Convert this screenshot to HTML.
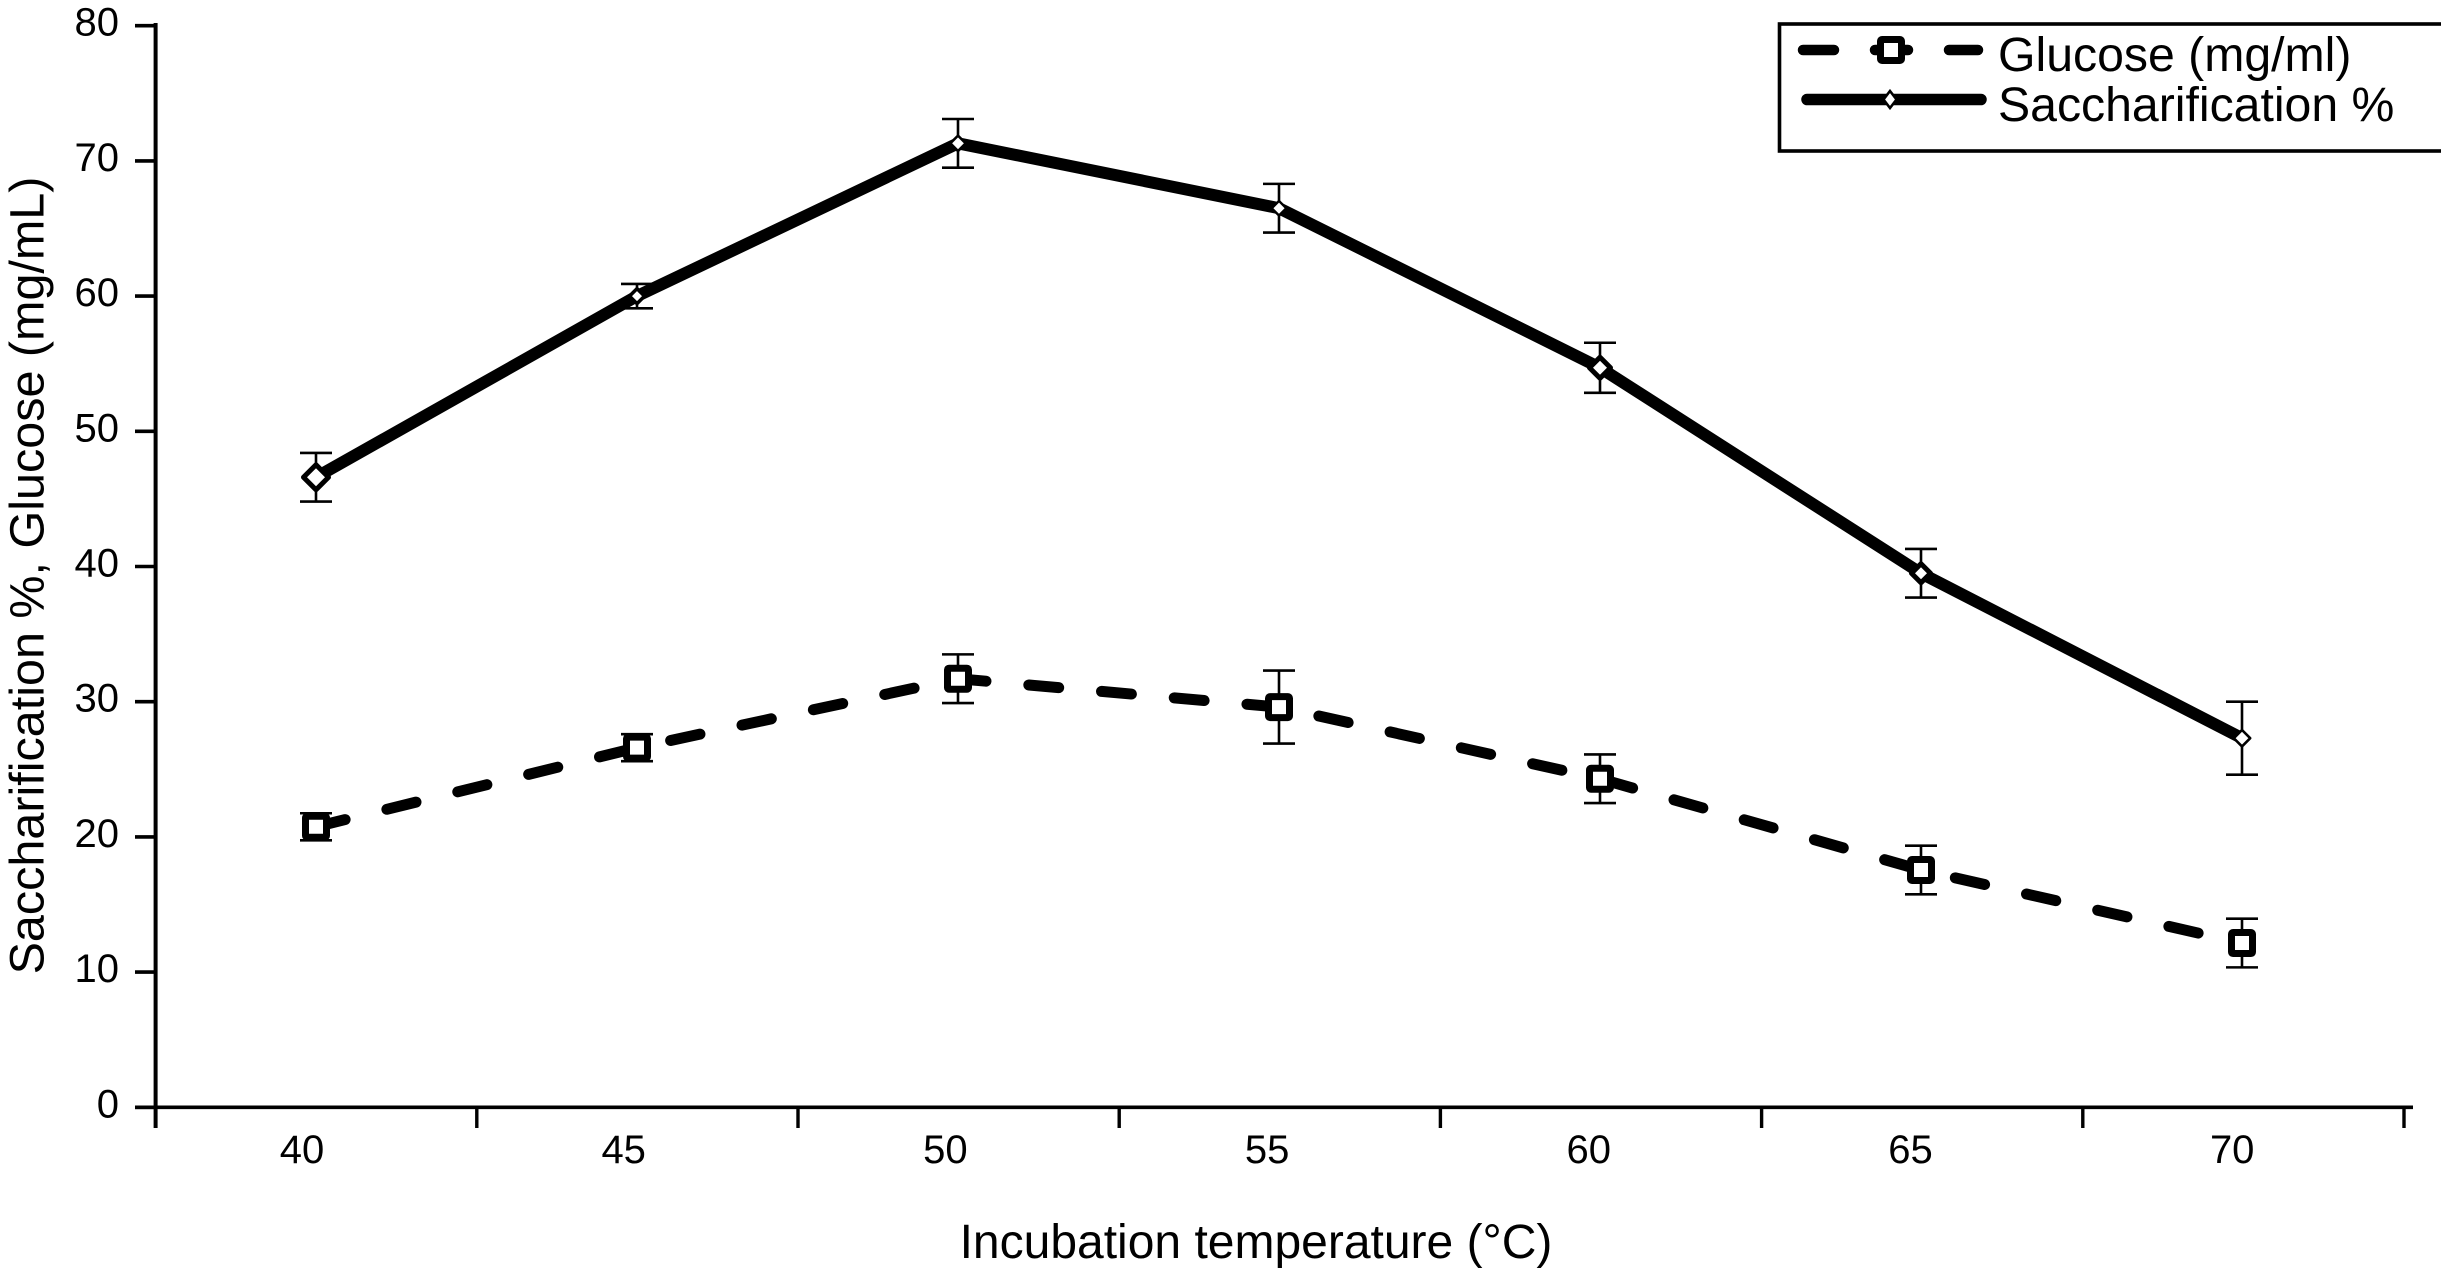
<!DOCTYPE html>
<html lang="en">
<head>
<meta charset="utf-8">
<title>Saccharification and glucose vs incubation temperature</title>
<style>
html,body{margin:0;padding:0;background:#fff;width:2441px;height:1268px;overflow:hidden}
svg{display:block;font-family:"Liberation Sans",sans-serif;fill:#000}
</style>
</head>
<body>
<svg id="chart" xmlns="http://www.w3.org/2000/svg" width="2441" height="1268" viewBox="0 0 2441 1268">
  <rect x="0" y="0" width="2441" height="1268" fill="#fff"/>
  <g id="axes"></g>
  <g id="errors"></g>
  <g id="series"></g>
  <text x="1256" y="1258" font-size="48" text-anchor="middle">Incubation temperature (°C)</text>
  <text transform="translate(43.5 575.5) rotate(-90)" font-size="48.5" text-anchor="middle">Saccharification %, Glucose (mg/mL)</text>
  <g>
    <rect x="1779.5" y="24" width="700" height="127" fill="#fff" stroke="#000" stroke-width="3.6"/>
    <g>
      <path d="M1803 50H1834M1949 50H1978M1875 50H1908" stroke="#000" stroke-width="10.5" stroke-linecap="round" fill="none"/>
      <rect x="1880.5" y="39.5" width="21" height="21" rx="1.5" fill="#fff" stroke="#000" stroke-width="7"/>
      <text x="1998" y="71" font-size="48.2">Glucose (mg/ml)</text>
    </g>
    <g>
      <path d="M1807 99.5H1981" stroke="#000" stroke-width="11.5" stroke-linecap="round" fill="none"/>
      <path d="M1890 91L1896.5 99.5L1890 108L1883.5 99.5Z" fill="#fff" stroke="#000" stroke-width="2.6"/>
      <text x="1998" y="121" font-size="48.2">Saccharification %</text>
    </g>
  </g>
</svg>
<script>
const temperatures = ['40', '45', '50', '55', '60', '65', '70'];
const yTickLabels = [0, 10, 20, 30, 40, 50, 60, 70, 80];
const saccharification = [46.6, 60.0, 71.3, 66.5, 54.7, 39.5, 27.3];
const saccharificationError = [1.8, 0.9, 1.8, 1.8, 1.85, 1.8, 2.7];
const glucose = [20.75, 26.6, 31.7, 29.6, 24.3, 17.55, 12.15];
const glucoseError = [1.0, 1.0, 1.8, 2.7, 1.8, 1.8, 1.8];

const SVG_NS = 'http://www.w3.org/2000/svg';
const axesGroup = document.getElementById('axes');
const errorsGroup = document.getElementById('errors');
const seriesGroup = document.getElementById('series');

// Axis functions
function yScale(v) { return 1107.3 - v * 13.52; }
function xBandEdge(i) { return 155.6 + i * 321.2; }
function xPoint(i) { return 316 + i * 321; }
function xLabel(i) { return 302 + i * 321.7; }

function make(parent, tag, attrs) {
  const el = document.createElementNS(SVG_NS, tag);
  for (const k in attrs) el.setAttribute(k, attrs[k]);
  parent.appendChild(el);
  return el;
}
const axisStroke = { stroke: '#000', fill: 'none' };

// Axis lines
let yAxisLine = make(axesGroup, 'line', { x1: 155.6, x2: 155.6, y1: 23, y2: 1128, 'stroke-width': 4, ...axisStroke });


let xAxisLine = make(axesGroup, 'line', { x1: 135, x2: 2413, y1: yScale(0), y2: yScale(0), 'stroke-width': 3.6, ...axisStroke });



// Y ticks and labels
yTickLabels.forEach(function (v) {
  const tick = make(axesGroup, 'line', { x1: 135, x2: 155.6, y1: yScale(v), y2: yScale(v), 'stroke-width': 3.6, ...axisStroke });
  
  
  const label = make(axesGroup, 'text', { x: 119, y: yScale(v) + 10, 'font-size': 40, 'text-anchor': 'end' });
  
  
  label.textContent = v;
});

// X ticks (category boundaries) and labels
for (let i = 1; i <= temperatures.length; i++) {
  const tick = make(axesGroup, 'line', { x1: xBandEdge(i), x2: xBandEdge(i), y1: yScale(0), y2: 1128, 'stroke-width': 3.4, ...axisStroke });
  
  
}
temperatures.forEach(function (t, i) {
  const label = make(axesGroup, 'text', { x: xLabel(i), y: 1163, 'font-size': 40, 'text-anchor': 'middle' });
  
  
  label.textContent = t;
});

// Error bars
function drawErrors(values, errors, seriesName) {
  values.forEach(function (v, i) {
    const x = xPoint(i), top = yScale(v + errors[i]), bottom = yScale(v - errors[i]);
    const bar = make(errorsGroup, 'path', {
      d: 'M' + x + ' ' + top + 'V' + bottom + 'M' + (x - 16) + ' ' + top + 'H' + (x + 16) + 'M' + (x - 16) + ' ' + bottom + 'H' + (x + 16),
      stroke: '#000', 'stroke-width': 2.6, fill: 'none'
    });
    
    
  });
}
drawErrors(glucose, glucoseError, 'glucose');
drawErrors(saccharification, saccharificationError, 'saccharification');

// Series lines
function pointsOf(values) {
  return values.map(function (v, i) { return xPoint(i) + ',' + yScale(v); }).join(' ');
}
const glucoseLine = make(seriesGroup, 'polyline', {
  points: pointsOf(glucose), fill: 'none', stroke: '#000', 'stroke-width': 11,
  'stroke-linecap': 'round', 'stroke-linejoin': 'round', 'stroke-dasharray': '30 43', 'stroke-dashoffset': 0
});


const saccharificationLine = make(seriesGroup, 'polyline', {
  points: pointsOf(saccharification), fill: 'none', stroke: '#000', 'stroke-width': 12,
  'stroke-linejoin': 'miter'
});



// Markers
glucose.forEach(function (v, i) {
  const s = make(seriesGroup, 'rect', {
    x: xPoint(i) - 10.5, y: yScale(v) - 10.5, width: 21, height: 21, rx: 1.5,
    fill: '#fff', stroke: '#000', 'stroke-width': 7
  });
  
  
});
const diamondRadius = [12.5, 7.5, 7.7, 7.3, 10.5, 9.5, 8.2];
const diamondStroke = [5, 3.5, 2.6, 2.4, 5, 5, 2.6];
saccharification.forEach(function (v, i) {
  const x = xPoint(i), y = yScale(v), r = diamondRadius[i];
  const d = make(seriesGroup, 'path', {
    d: 'M' + x + ' ' + (y - r) + 'L' + (x + r) + ' ' + y + 'L' + x + ' ' + (y + r) + 'L' + (x - r) + ' ' + y + 'Z',
    fill: '#fff', stroke: '#000', 'stroke-width': diamondStroke[i], 'stroke-linejoin': 'round'
  });
  
  
});
</script>
</body>
</html>
